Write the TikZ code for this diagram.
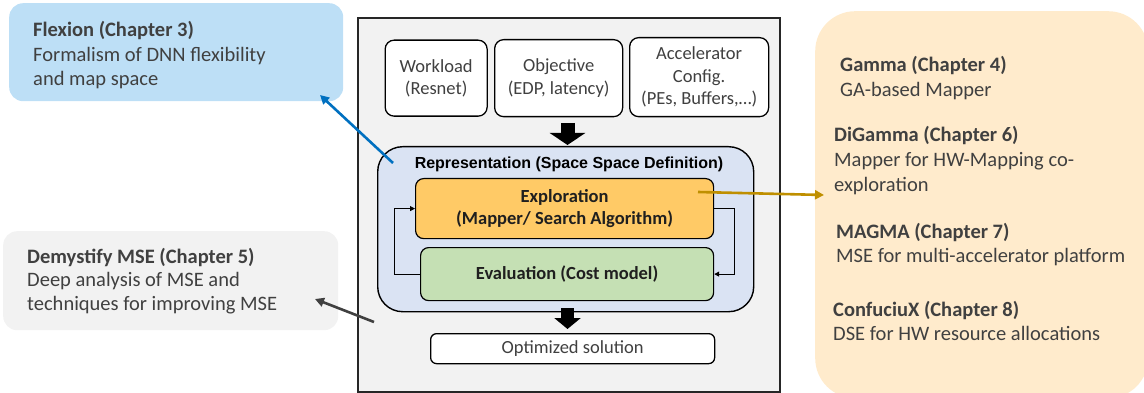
\documentclass[tikz,border=0pt]{standalone}
\usepackage{fontspec}
\setmainfont{Carlito}
\newfontfamily\arialfont{Liberation Sans}
\usetikzlibrary{arrows.meta,calc}

\definecolor{txtgray}{RGB}{64,64,64}
\definecolor{flexblue}{RGB}{189,223,246}
\definecolor{panelgray}{RGB}{242,242,242}
\definecolor{repblue}{RGB}{218,227,243}
\definecolor{exporange}{RGB}{255,202,102}
\definecolor{evalgreen}{RGB}{197,224,180}
\definecolor{chapcream}{RGB}{255,235,204}
\definecolor{linkblue}{RGB}{0,112,192}
\definecolor{linkgold}{RGB}{191,143,0}
\definecolor{linkgray}{RGB}{64,64,64}

\begin{document}
\begin{tikzpicture}[x=1pt,y=-1pt,
  chapbox/.style={rectangle, rounded corners=14pt, inner sep=0pt, anchor=north west},
  chaptext/.style={anchor=north west, inner sep=0pt, align=left, text=txtgray,
    font=\fontsize{20.5}{24.5}\selectfont},
  inbox/.style={rectangle, rounded corners=9pt, draw=black, line width=1.3pt, fill=white,
    align=center, text=txtgray, inner sep=0pt, anchor=north west,
    font=\fontsize{18.5}{22.5}\selectfont},
  stagebox/.style={rectangle, rounded corners=8pt, draw=black, line width=1.2pt,
    align=center, inner sep=0pt, anchor=north west, text=black!88,
    font=\bfseries\fontsize{18.5}{22}\selectfont},
  blockarrow/.style={line width=14pt, black, -{Triangle[length=12pt, width=35pt]}},
  link/.style={line width=2.6pt, -{Triangle[length=9pt, width=9pt]}},
  loopline/.style={line width=1pt, black, -{Triangle[length=5pt, width=5pt]}}
]
\useasboundingbox (0,0) rectangle (1144,393);

% side panels with chapter notes
\node[chapbox, fill=flexblue, minimum width=334pt, minimum height=98pt] (flex) at (9,3) {};
\node[chaptext] (flextxt) at (33,21.5) {\textbf{Flexion (Chapter 3)}\\Formalism of DNN flexibility\\and map space};

\node[chapbox, fill=panelgray, minimum width=335pt, minimum height=99pt] (demy) at (3,231) {};
\node[chaptext, font=\fontsize{20.5}{23.5}\selectfont] (demytxt) at (27,248) {\textbf{Demystify MSE (Chapter 5)}\\Deep analysis of MSE and\\techniques for improving MSE};

\node[chapbox, rounded corners=40pt, fill=chapcream, minimum width=333pt, minimum height=387pt] (chaps) at (815,11) {};
\node[chaptext] (gamma) at (840,56.5) {\textbf{Gamma (Chapter 4)}\\GA-based Mapper};
\node[chaptext, font=\fontsize{20.5}{25}\selectfont] (digamma) at (834,126.5) {\textbf{DiGamma (Chapter 6)}\\Mapper for HW-Mapping co-\\exploration};
\node[chaptext, font=\fontsize{20.5}{23.5}\selectfont] (magma) at (836,223.5) {\textbf{MAGMA (Chapter 7)}\\MSE for multi-accelerator platform};
\node[chaptext, font=\fontsize{20.5}{23.5}\selectfont] (confu) at (833,301.5) {\textbf{ConfuciuX (Chapter 8)}\\DSE for HW resource allocations};

% central framework
\node[rectangle, draw=black!85, line width=2pt, fill=panelgray, anchor=north west,
  minimum width=422pt, minimum height=374pt, inner sep=0pt] (frame) at (357,17) {};

\node[inbox, minimum width=102pt, minimum height=76pt] (work) at (384.5,39.5) {Workload\\(Resnet)};
\node[inbox, minimum width=128pt, minimum height=77pt] (obj) at (494,39) {Objective\\(EDP, latency)};
\node[inbox, minimum width=139pt, minimum height=79pt] (acc) at (629,37) {Accelerator\\Config.\\(PEs, Buffers,\dots)};

\node[rectangle, rounded corners=25pt, draw=black, line width=1.4pt, fill=repblue, anchor=north west,
  minimum width=376pt, minimum height=165pt, inner sep=0pt] (rep) at (377,146) {};
\node[anchor=base, inner sep=0pt, font=\arialfont\bfseries\fontsize{16}{18}\selectfont] (reptitle) at (569,168)
  {Representation (Space Space Definition)};

\node[stagebox, fill=exporange, minimum width=298pt, minimum height=60pt] (explo) at (415,178)
  {Exploration\\(Mapper/ Search Algorithm)};
\node[stagebox, fill=evalgreen, minimum width=293pt, minimum height=53pt] (eval) at (420,247)
  {Evaluation (Cost model)};

\node[inbox, rounded corners=6pt, minimum width=284pt, minimum height=30pt] (sol) at (430,333) {Optimized solution};

% feedback loop between search and cost model
\draw[loopline] (eval.west) -- ++(-26,0) |- (explo.west);
\draw[loopline] (explo.east) -- ++(20,0) |- (eval.east);

% flow of the inputs and of the result
\coordinate (inA) at (567.5,123);
\coordinate (inB) at (567.5,145);
\draw[blockarrow] (inA) -- (inB);
\coordinate (outA) at (567.5,308);
\coordinate (outB) at (567.5,329);
\draw[blockarrow, line width=13pt, -{Triangle[length=11pt, width=26pt]}] (outA) -- (outB);

% links to the chapters
\coordinate (repTL) at (393,163);
\coordinate (flexTip) at (320,95);
\draw[link, linkblue] (repTL) -- (flexTip);

\coordinate (frameBL) at (374,322);
\coordinate (demyTip) at (315,299);
\draw[link, linkgray] (frameBL) -- (demyTip);

\coordinate (exploR) at (698,192);
\coordinate (chapsTip) at (824,195);
\draw[link, linkgold] (exploR) -- (chapsTip);
\end{tikzpicture}
\end{document}
